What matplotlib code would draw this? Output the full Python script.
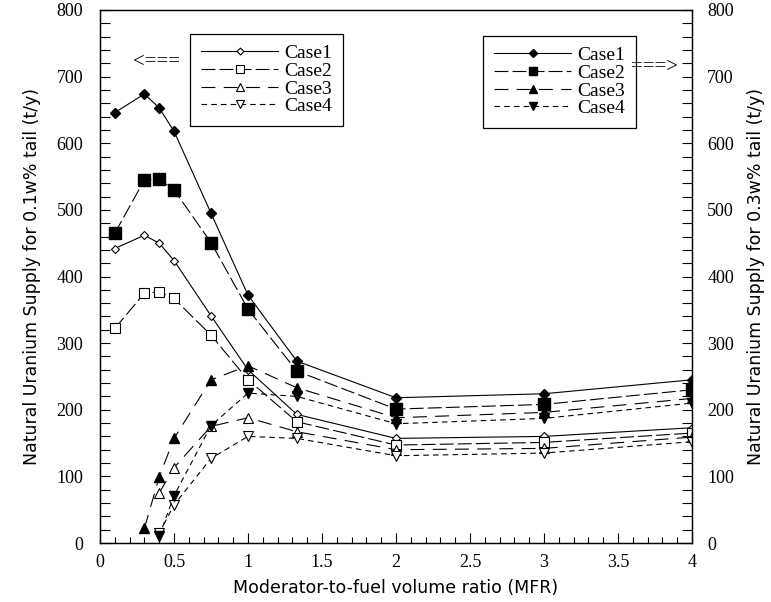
import numpy as np
import matplotlib
matplotlib.use('Agg')
import matplotlib.pyplot as plt
from matplotlib.ticker import MultipleLocator

nan = np.nan

# moderator-to-fuel ratio
mfr = [0.1, 0.3, 0.4, 0.5, 0.75, 1.0, 1.33, 2, 3, 4]

# 0.1w% tail (open markers, left axis)
case1_t01 = [442, 462, 450, 424, 341, 260, 193, 157, 160, 173]
case2_t01 = [322, 375, 377, 367, 312, 245, 182, 147, 151, 165]
case3_t01 = [nan, nan, 75, 113, 175, 188, 167, 140, 142, 159]
case4_t01 = [nan, nan, 15, 57, 127, 160, 157, 131, 135, 152]

# 0.3w% tail (filled markers, right axis)
case1_t03 = [646, 674, 653, 618, 495, 372, 273, 218, 224, 245]
case2_t03 = [465, 545, 546, 530, 451, 351, 258, 201, 208, 230]
case3_t03 = [nan, 22, 99, 157, 245, 266, 233, 188, 196, 217]
case4_t03 = [nan, nan, 10, 71, 176, 225, 220, 179, 187, 210]

case_names = ['Case1', 'Case2', 'Case3', 'Case4']
xtick_vals = [0, 0.5, 1, 1.5, 2, 2.5, 3, 3.5, 4]
xtick_labels = ['0', '0.5', '1', '1.5', '2', '2.5', '3', '3.5', '4']
ytick_vals = [0, 100, 200, 300, 400, 500, 600, 700, 800]

plt.rcParams['lines.scale_dashes'] = False
serif = 'Liberation Serif'
sans = 'DejaVu Sans'

# marker, line style, open size, filled size
styles = [
    ('D', '-', 4.4, 4.8),
    ('s', (0, (10, 3)), 7.5, 8),
    ('^', (0, (10, 6)), 7, 7),
    ('v', (0, (4, 3)), 7, 7),
]

fig = plt.figure(figsize=(7.71, 6.02), dpi=100)
ax = fig.add_axes([100 / 771, 1 - 543 / 602, 592 / 771, 533 / 602])
ax2 = ax.twinx()

open_data = [case1_t01, case2_t01, case3_t01, case4_t01]
filled_data = [case1_t03, case2_t03, case3_t03, case4_t03]

# Open markers on left axis
open_lines = []
for data, (mk, ls, ms_o, ms_f), name in zip(open_data, styles, case_names):
    y = np.array(data, dtype=float)
    ok = ~np.isnan(y)
    l, = ax.plot(np.array(mfr)[ok], y[ok], color='black', lw=0.8, linestyle=ls,
                 marker=mk, markersize=ms_o,
                 markerfacecolor='white', markeredgecolor='black', markeredgewidth=0.8,
                 label=name)
    open_lines.append(l)

# Filled markers on right axis
filled_lines = []
for data, (mk, ls, ms_o, ms_f), name in zip(filled_data, styles, case_names):
    y = np.array(data, dtype=float)
    ok = ~np.isnan(y)
    l, = ax2.plot(np.array(mfr)[ok], y[ok], color='black', lw=0.8, linestyle=ls,
                  marker=mk, markersize=ms_f,
                  markerfacecolor='black', markeredgecolor='black',
                  label=name)
    filled_lines.append(l)

for a in (ax, ax2):
    a.set_xlim(0, 4)
    a.set_ylim(0, 800)
    a.set_yticks(ytick_vals)
    a.yaxis.set_minor_locator(MultipleLocator(20))
    for sp in a.spines.values():
        sp.set_linewidth(0.9)

ax.set_xticks(xtick_vals)
ax.set_xticklabels(xtick_labels, fontfamily=serif, fontsize=13)
ax.xaxis.set_minor_locator(MultipleLocator(0.1))
ax.tick_params(axis='x', which='major', direction='in', length=7, width=0.8,
               top=False, pad=8)
ax.tick_params(axis='x', which='minor', direction='in', length=4, width=0.8, top=False)
ax.tick_params(axis='y', which='both', direction='in', length=7, width=0.8,
               right=False, pad=12)
ax2.tick_params(axis='y', which='both', direction='in', length=7, width=0.8,
                left=False, pad=11)
for lab in ax.get_yticklabels() + ax2.get_yticklabels():
    lab.set_fontfamily(serif)
    lab.set_fontsize(13)

ax.set_xlabel('Moderator-to-fuel volume ratio (MFR)', fontfamily=sans, fontsize=12.5,
              labelpad=6)
ax.set_ylabel('Natural Uranium Supply for 0.1w% tail (t/y)', fontfamily=sans,
              fontsize=12.5, labelpad=11)
ax2.set_ylabel('Natural Uranium Supply for 0.3w% tail (t/y)', fontfamily=sans,
               fontsize=12.5, rotation=90, labelpad=9)

leg_kw = dict(frameon=True, fancybox=False, edgecolor='black', framealpha=1,
              prop={'family': serif, 'size': 14}, handlelength=4.0,
              labelspacing=0.0, borderpad=0.55, handletextpad=0.3,
              borderaxespad=0, markerscale=0.8)
leg1 = ax.legend(handles=open_lines, loc='upper left',
                 bbox_to_anchor=(190 / 771, 1 - 34 / 602),
                 bbox_transform=fig.transFigure, **leg_kw)
leg1.get_frame().set_linewidth(0.9)
leg2 = ax2.legend(handles=filled_lines, loc='upper left',
                  bbox_to_anchor=(483 / 771, 1 - 36 / 602),
                  bbox_transform=fig.transFigure, **leg_kw)
leg2.get_frame().set_linewidth(0.9)

fig.text(157 / 771, 1 - 62 / 602, '<===', ha='center', va='center',
         fontfamily=serif, fontsize=15)
fig.text(655 / 771, 1 - 67 / 602, '===>', ha='center', va='center',
         fontfamily=serif, fontsize=15)

fig.savefig('out.png', dpi=100)
